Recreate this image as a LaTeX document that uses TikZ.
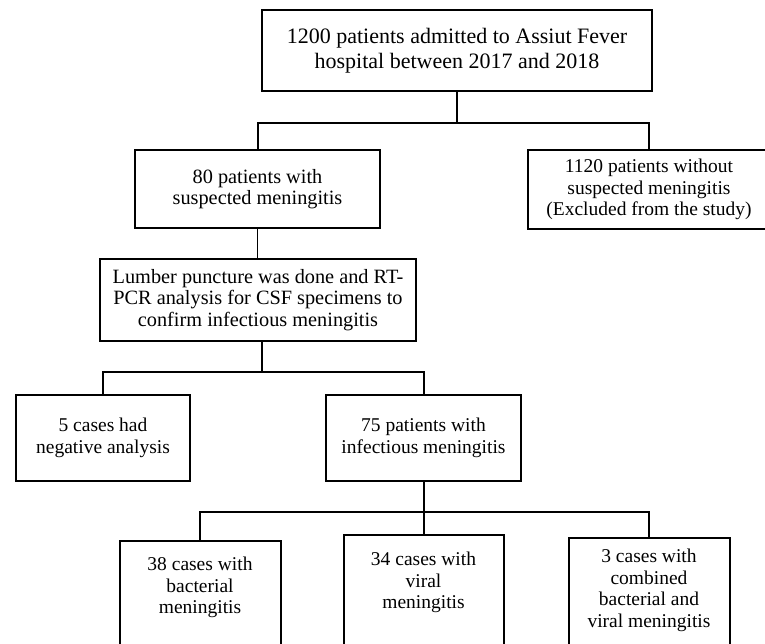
\documentclass[tikz,border=0pt]{standalone}
\usepackage{fontspec}
\setmainfont{Liberation Serif}
\usetikzlibrary{positioning}
\newcommand{\leaftext}[1]{\parbox[t][120pt][t]{150pt}{\centering #1}}

\begin{document}
\begin{tikzpicture}[x=1pt, y=-1pt,
  box/.style={rectangle, draw, line width=2pt, inner sep=0pt, align=center,
    font=\fontsize{19.5}{21.5}\selectfont},
  leaf/.style={box, anchor=north, minimum width=161pt, inner ysep=#1},
  link/.style={line width=2pt}
]
\useasboundingbox (0,0) rectangle (765,643);
\clip (0,0) rectangle (765,643);

\node[box, minimum width=390pt, minimum height=81pt, font=\fontsize{22}{25}\selectfont] (adm) at (457,50.5) {1200 patients admitted to Assiut Fever\\hospital between 2017 and 2018};
\node[box, minimum width=245pt, minimum height=78pt, font=\fontsize{20.3}{21}\selectfont] (susp) at (257.5,189) {80 patients with\\suspected meningitis};
\node[box, minimum width=242pt, minimum height=79pt] (excl) at (649,189.5) {1120 patients without\\suspected meningitis\\(Excluded from the study)};
\node[box, minimum width=316pt, minimum height=82pt, font=\fontsize{20.3}{21.5}\selectfont] (lp) at (258,300) {Lumber puncture was done and RT-\\PCR analysis for CSF specimens to\\confirm infectious meningitis};
\node[box, minimum width=174pt, minimum height=86pt] (neg) at (103,438) {5 cases had\\negative analysis};
\node[box, minimum width=195pt, minimum height=86pt] (inf) at (423.5,438) {75 patients with\\infectious meningitis};
\node[leaf=16pt] (bact) at (200,540) {\leaftext{38 cases with\\bacterial\\meningitis}};
\node[leaf=17pt, minimum width=160pt] (vir) at (423.5,534) {\leaftext{34 cases with\\viral\\meningitis}};
\node[leaf=11pt] (comb) at (649,537) {\leaftext{3 cases with\\combined\\bacterial and\\viral meningitis}};

\coordinate (s1) at (457,123);
\coordinate (s2) at (262,372);
\coordinate (s3) at (423.5,512);

\draw[link] (adm.south) -- (s1);
\draw[link] (susp.north) |- (s1) -| (excl.north);
\draw[line width=1.2pt] (susp.south) -- (lp.north -| susp.south);
\draw[link] (lp.south -| s2) -- (s2);
\draw[link] (neg.north) |- (s2) -| (inf.north);
\draw[link] (inf.south) -- (s3);
\draw[link] (bact.north) |- (s3) -| (comb.north);
\draw[link] (vir.north) -- (s3);
\end{tikzpicture}
\end{document}
